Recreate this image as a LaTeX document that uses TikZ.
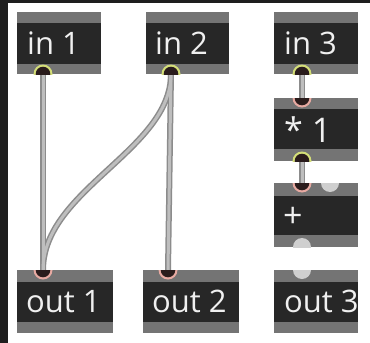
\documentclass[tikz,border=0pt]{standalone}
\usepackage{fontspec}
\setmainfont{Open Sans}
\definecolor{boxdark}{HTML}{272727}
\definecolor{boxgray}{HTML}{747474}
\definecolor{cabout}{HTML}{8C8C8C}
\definecolor{cabin}{HTML}{BEBEBE}
\definecolor{outring}{HTML}{D4DE78}
\definecolor{inring}{HTML}{E8AAA2}
\definecolor{portdark}{HTML}{2A1C1C}
\definecolor{portoff}{HTML}{CFCFCF}
\definecolor{strip}{HTML}{1E1E1E}
\tikzset{
  boxlabel/.style={anchor=base west, inner sep=0pt, text=white!94!black, font=\fontsize{31}{33}\selectfont},
  biglabel/.style={boxlabel, font=\fontsize{34}{36}\selectfont},
  cableout/.style={draw=cabout, line width=6pt},
  cablein/.style={draw=cabin, line width=3pt},
}
% box: name, x1, y1, x2, y2, darktop, darkbottom
\newcommand\mxbox[7]{%
  \fill[boxgray] (#2,#3) rectangle (#4,#5);
  \fill[boxdark] (#2,#6) rectangle (#4,#7);
  \coordinate (#1-nw) at (#2,#3);
  \coordinate (#1-se) at (#4,#5);
}
% port clipped to a box: box name, x, y, ring colour, inner colour
\newcommand\mxport[5]{%
  \begin{scope}
    \clip (#1-nw) rectangle (#1-se);
    \fill[#4] (#2,#3) circle (9.5);
    \fill[#5] (#2,#3) circle (7.3);
  \end{scope}
}
\newcommand\mxoff[3]{%
  \begin{scope}
    \clip (#1-nw) rectangle (#1-se);
    \fill[portoff] (#2,#3) circle (9);
  \end{scope}
}
\begin{document}
\begin{tikzpicture}[x=1pt,y=-1pt]
\useasboundingbox (0,0) rectangle (370,343);
\fill[white] (0,0) rectangle (370,343);
\fill[strip] (0,0) rectangle (8,343);
\fill[strip] (0,0) rectangle (370,2.5);

% boxes
\mxbox{in1}{17}{12}{101}{74}{23}{64}
\mxbox{in2}{146}{12}{229}{74}{23}{64}
\mxbox{in3}{274}{12}{358}{74}{23}{64}
\mxbox{mul}{274}{98}{358}{161}{109}{149}
\mxbox{plus}{274}{183}{358}{247}{196}{235}
\mxbox{out1}{17}{270}{113}{333}{282}{322}
\mxbox{out2}{143}{270}{239}{333}{282}{322}
\mxbox{out3}{274}{270}{358}{333}{282}{322}

% labels
\node[boxlabel] (tin1) at (27,54) {in 1};
\node[boxlabel] (tin2) at (155,54) {in 2};
\node[boxlabel] (tin3) at (284,54) {in 3};
\node[biglabel] (tmul) at (284,142) {* 1};
\node[biglabel] (tplus) at (283,227) {+};
\node[boxlabel] (tout1) at (26,312) {out 1};
\node[boxlabel] (tout2) at (152,312) {out 2};
\node[boxlabel] (tout3) at (284,312) {out 3};

% port coordinates
\coordinate (in1-o) at (43,74);
\coordinate (in2-o) at (171,74);
\coordinate (in3-o) at (302,74);
\coordinate (mul-i) at (302,98);
\coordinate (mul-o) at (302,161);
\coordinate (plus-i) at (302,183);
\coordinate (out1-i) at (43,270);
\coordinate (out2-i) at (168,270);

% cables
\foreach \s in {cableout,cablein}{
  \draw[\s] (in1-o) -- (out1-i);
  \draw[\s] (in2-o) .. controls (171,150) and (43,190) .. (out1-i);
  \draw[\s] (in2-o) -- (out2-i);
  \draw[\s] (in3-o) -- (mul-i);
  \draw[\s] (mul-o) -- (plus-i);
}

% ports
\mxport{in1}{43}{74}{outring}{portdark}
\mxport{in2}{171}{74}{outring}{portdark}
\mxport{in3}{302}{74}{outring}{portdark}
\mxport{mul}{302}{98}{inring}{portdark}
\mxport{mul}{302}{161}{outring}{portdark}
\mxport{plus}{302}{183}{inring}{portdark}
\mxoff{plus}{330}{183}
\mxoff{plus}{302}{247}
\mxport{out1}{43}{270}{inring}{portdark}
\mxport{out2}{168}{270}{inring}{portdark}
\mxoff{out3}{302}{270}
\end{tikzpicture}
\end{document}
